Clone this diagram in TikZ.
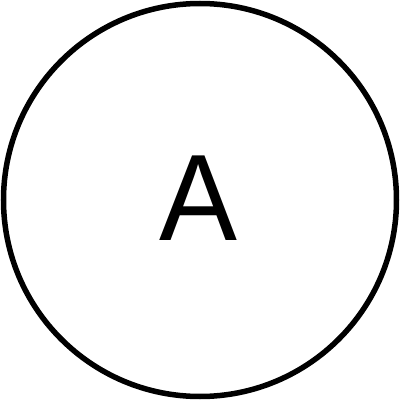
\documentclass[tikz,border=0pt]{standalone}
\usepackage{fontspec}
\setmainfont{Liberation Sans}
\begin{document}
\begin{tikzpicture}[x=1pt,y=1pt]
\useasboundingbox (0,0) rectangle (400,400);
\node[circle,draw,line width=5.5pt,minimum size=393pt,inner sep=0pt,
  font=\fontsize{123}{123}\selectfont] (a) at (200,200) {\hspace*{-4pt}\raisebox{3pt}{\scalebox{0.95}[1]{A}}};
\end{tikzpicture}
\end{document}
